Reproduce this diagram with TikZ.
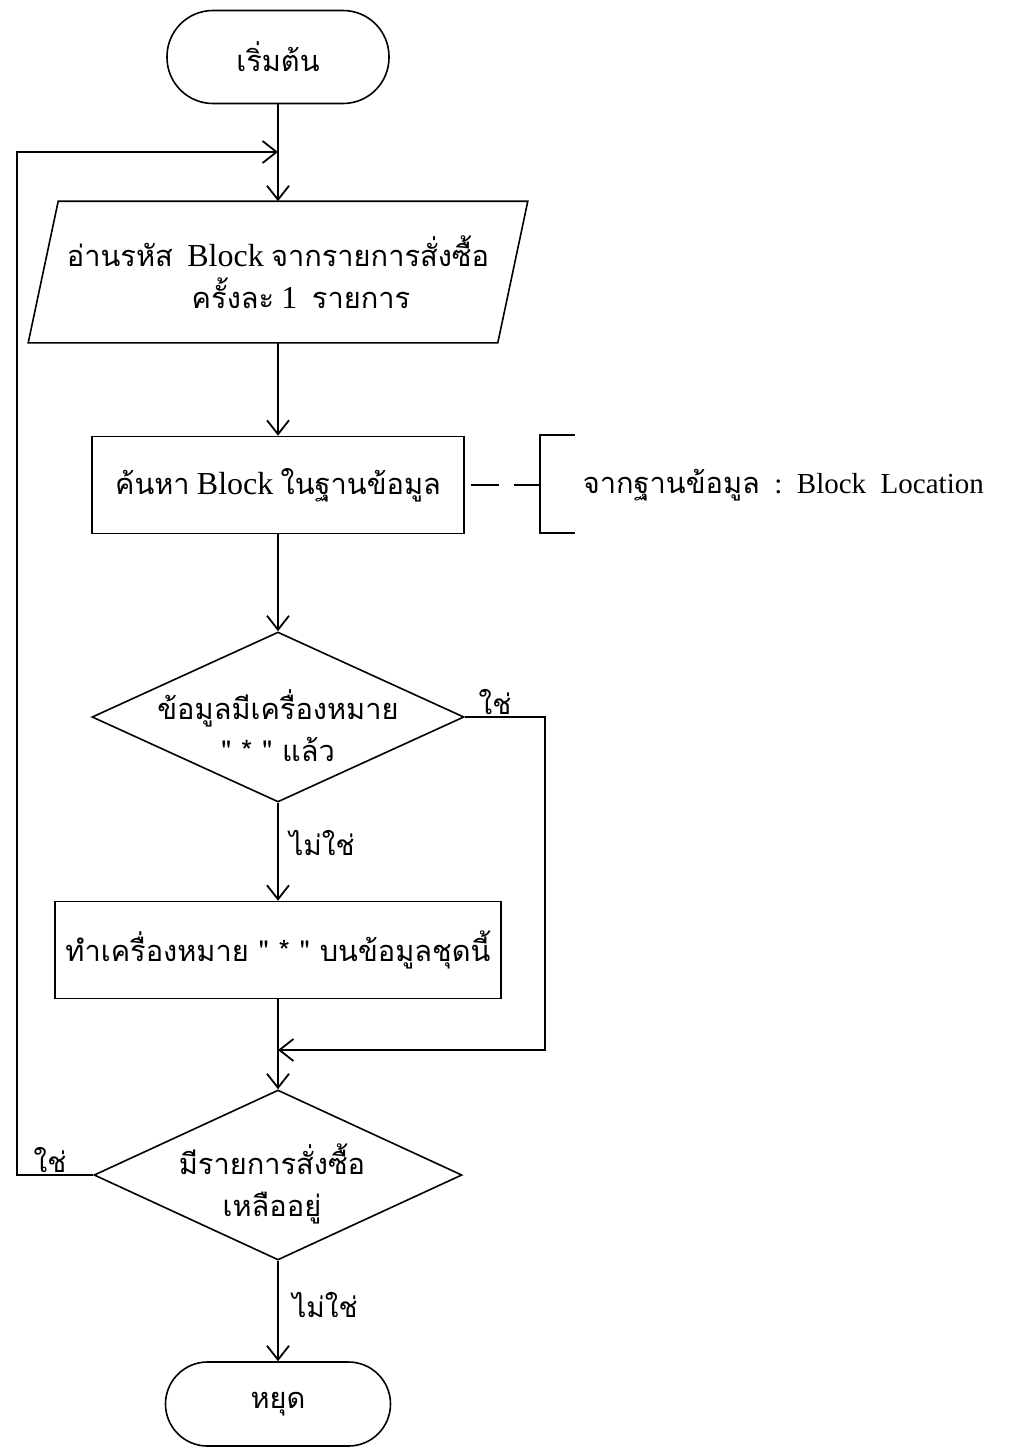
\documentclass[tikz,border=0pt]{standalone}
\usepackage{fontspec}
\setmainfont{Liberation Serif}
\newfontfamily\thaifont[Script=Thai]{Loma}
\usetikzlibrary{arrows.meta,shapes.geometric}
\newcommand{\tha}[1]{{\thaifont #1}}
\begin{document}
\begin{tikzpicture}[x=1pt,y=-1pt,
  line width=1.6pt,
  arr/.style={-{Straight Barb[length=14pt,width=22pt,line width=1.8pt]}},
  term/.style={draw, rectangle, minimum width=222pt, minimum height=93pt, inner sep=0pt},
  procbox/.style={draw, rectangle, inner sep=0pt},
  dec/.style={draw, diamond, inner sep=0pt},
  txt/.style={font=\fontsize{29}{42}\selectfont, align=center, inner sep=0pt},
  lbl/.style={font=\thaifont\fontsize{28}{32}\selectfont, inner sep=0pt},
]
\useasboundingbox (0,0) rectangle (1013,1449);
% start
\node[term, rounded corners=46pt, txt] (start) at (278,57) {\tha{เริ่มต้น}};
\coordinate (jn) at (278,152);
% input parallelogram
\node[txt, minimum width=468pt, minimum height=140pt] (p) at (278,272)
  {\tha{อ่านรหัส}\ \ {\fontsize{32}{42}\selectfont Block} \tha{จากรายการสั่งซื้อ}\\\hspace*{46pt}\tha{ครั้งละ} {\fontsize{32}{42}\selectfont 1}\ \ \tha{รายการ}};
\draw ([xshift=15pt]p.north west) -- ([xshift=15pt]p.north east)
   -- ([xshift=-15pt]p.south east) -- ([xshift=-15pt]p.south west) -- cycle;
% search box
\node[procbox, txt, minimum width=372pt, minimum height=97pt] (r1) at (278,485)
  {\tha{ค้นหา} {\fontsize{32}{42}\selectfont Block} \tha{ในฐานข้อมูล}};
% annotation
\coordinate (brm) at (540,485);
\draw[dash pattern=on 28pt off 15pt] ([xshift=6pt]r1.east) -- (brm);
\draw[line width=1.4pt] (brm) ++(35,-50) -- ++(-35,0) -- ++(0,98) -- ++(35,0);
\node[anchor=west, inner sep=0pt, font=\fontsize{29}{32}\selectfont] (ann) at (582,485)
  {\tha{จากฐานข้อมูล}\ \ :\ \ Block\ \ Location};
% decision 1
\node[dec, minimum width=372pt, minimum height=170pt] (d1) at (278,717) {};
\node[txt] (d1t) at (278,726) {\tha{ข้อมูลมีเครื่องหมาย}\\\tha{" * " แล้ว}};
\node[lbl] (yes1) at (495,702) {ใช่};
\node[lbl] (no1) at (322,843) {ไม่ใช่};
% mark box
\node[procbox, txt, minimum width=446pt, minimum height=97pt] (r2) at (278,950)
  {\tha{ทำเครื่องหมาย " * " บนข้อมูลชุดนี้}};
\coordinate (mg) at (278,1050);
\coordinate (rx) at (545,1050);
% decision 2
\node[dec, minimum width=368pt, minimum height=170pt] (d2) at (278,1175) {};
\node[txt] (d2t) at (272,1184) {\tha{มีรายการสั่งซื้อ}\\\tha{เหลืออยู่}};
\node[lbl] (yes2) at (50,1160) {ใช่};
\node[lbl] (no2) at (325,1305) {ไม่ใช่};
\coordinate (lx) at (17,152);
% stop
\node[term, rounded corners=42pt, minimum width=225pt, minimum height=84pt, txt] (stop) at (278,1404) {\tha{หยุด}};
% connectors
\draw[arr] (start) -- (p);
\draw[arr] (p) -- (r1);
\draw[arr] (r1) -- (d1);
\draw[arr] (d1) -- (r2);
\draw[arr] (r2) -- (d2);
\draw[arr] (d2) -- (stop);
\draw[arr] (d1.east) -| (rx) -- (mg);
\draw[arr] (d2.west) -| (lx) -- (jn);
\end{tikzpicture}
\end{document}
